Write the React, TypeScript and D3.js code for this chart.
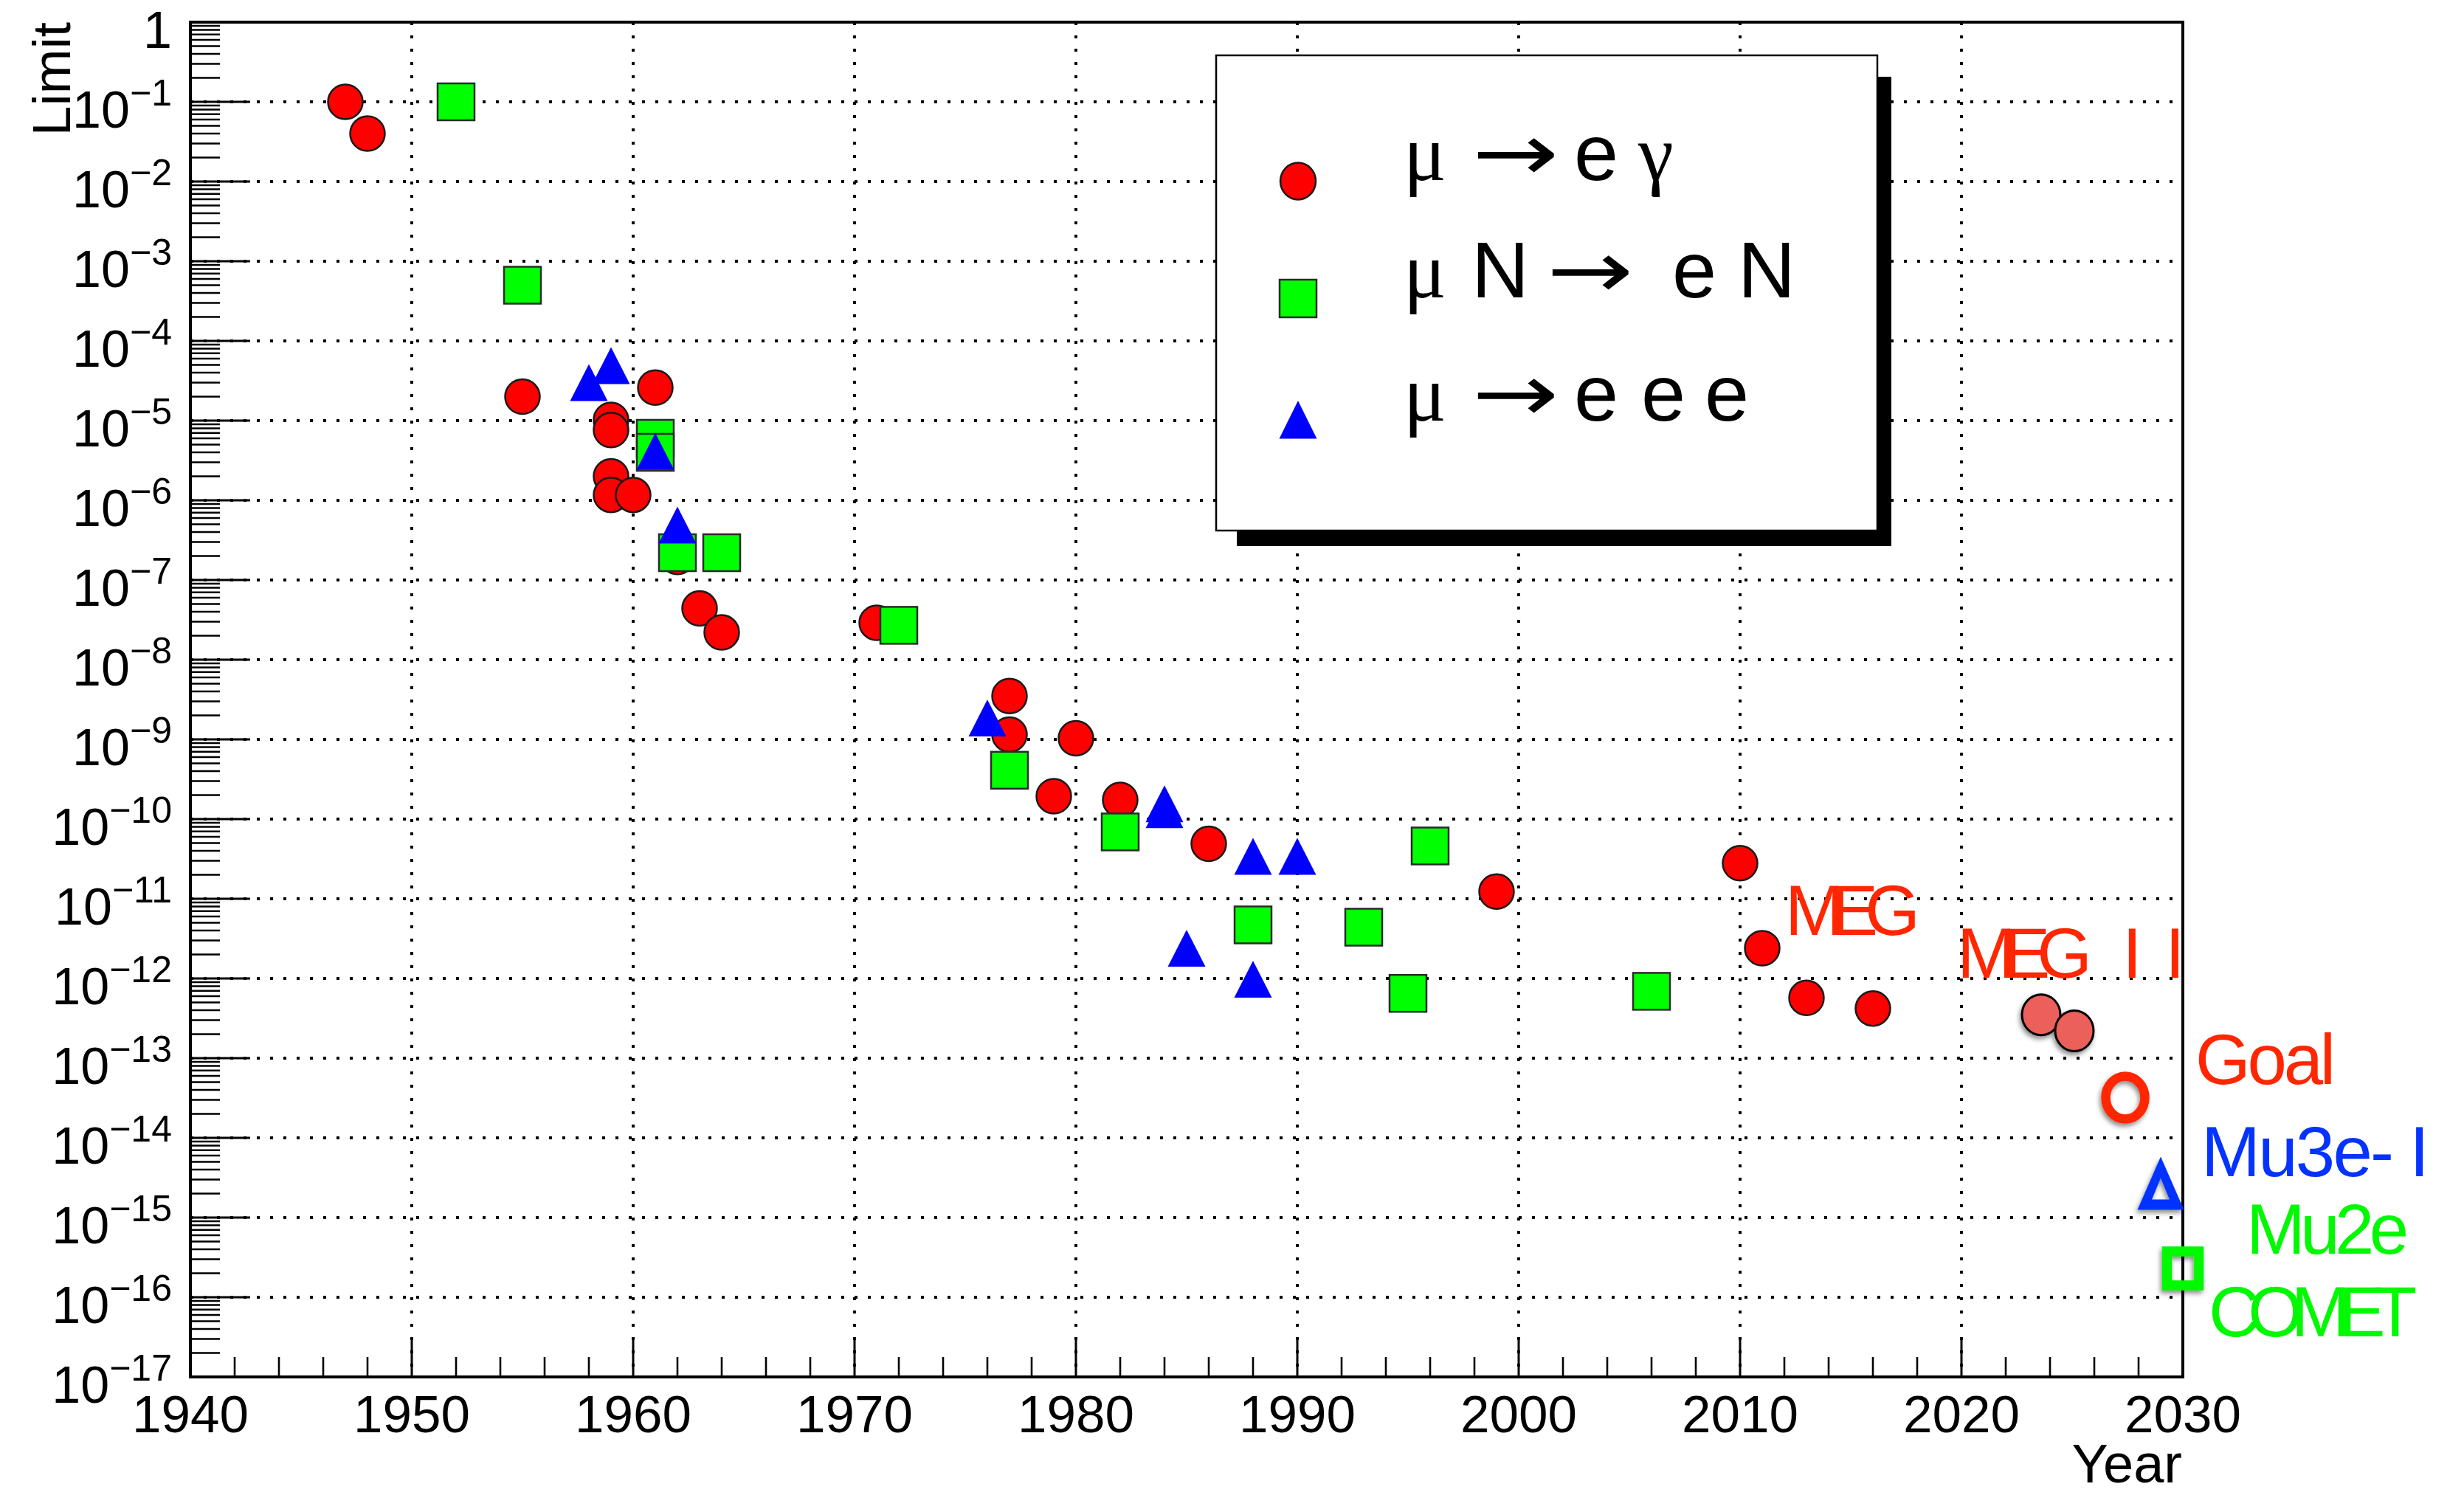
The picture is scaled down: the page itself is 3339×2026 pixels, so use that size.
import { scaleLinear, scaleLog, range } from "d3";

const W = 3339;
const H = 2026;
const X0 = 258;
const X1 = 2958;
const Y0 = 30;
const Y1 = 1866;

// mu -> e gamma
const egYears = [1947, 1948, 1955, 1959, 1959, 1959, 1959, 1960, 1961, 1962, 1963, 1964, 1971, 1977, 1977, 1979, 1980, 1982, 1986, 1999, 2010, 2011, 2013, 2016];
const egLimits = [1e-1, 4e-2, 2e-5, 1.02e-5, 7.6e-6, 2e-6, 1.17e-6, 1.17e-6, 2.6e-5, 1.95e-7, 4.4e-8, 2.2e-8, 2.9e-8, 3.5e-9, 1.15e-9, 1.94e-10, 1.03e-9, 1.74e-10, 4.9e-11, 1.23e-11, 2.8e-11, 2.4e-12, 5.7e-13, 4.2e-13];

// mu N -> e N
const convYears = [1952, 1955, 1961, 1961, 1962, 1964, 1972, 1977, 1982, 1988, 1993, 1995, 1996, 2006];
const convLimits = [1e-1, 5e-4, 6e-6, 4e-6, 2.2e-7, 2.2e-7, 2.7e-8, 4.1e-10, 6.9e-11, 4.7e-12, 4.4e-12, 6.5e-13, 4.6e-11, 6.9e-13];

// mu -> e e e
const eeeYears = [1958, 1959, 1961, 1962, 1976, 1984, 1984, 1985, 1988, 1988, 1990];
const eeeLimits = [3e-5, 4.9e-5, 4.1e-6, 4.9e-7, 1.86e-9, 1.56e-10, 1.31e-10, 2.4e-12, 3.4e-11, 9.8e-13, 3.4e-11];

// MEG II results and projected sensitivities
const megIIYears = [2023.6, 2025.1];
const megIILimits = [3.5e-13, 2.2e-13];
const goalYear = 2027.4;
const goalLimit = 3.2e-14;
const mu3eYear = 2029.0;
const mu3eLimit = 2.7e-15;
const mu2eYear = 2030.0;
const mu2eLimit = 2.3e-16;

const xTickYears = range(1940, 2031, 10);
const yExponents = range(0, -18, -1);

const RED = "#ff0000";
const GREEN = "#00ff00";
const BLUE = "#0000ff";
const KRED = "#ff2600";
const KBLUE = "#0433ff";
const KGREEN = "#00f900";
const SANS = "'Liberation Sans', Arial, Helvetica, sans-serif";
const SERIF = "'Liberation Serif', 'Times New Roman', serif";
const ARROW = "'DejaVu Sans', sans-serif";

const x = scaleLinear().domain([1940, 2030]).range([X0, X1]);
const y = scaleLog().domain([1, 1e-17]).range([Y0, Y1]);

const xMinor = range(1940, 2031, 2).filter((v) => v % 10 !== 0);
const yMinor = yExponents
  .slice(1)
  .flatMap((e) => range(2, 10).map((k) => k * Math.pow(10, e)));

const Circle = ({ cx, cy }: { cx: number; cy: number }) => (
  <circle cx={cx} cy={cy} r={23.5} fill={RED} stroke="#1a1a1a" strokeWidth={2.5} />
);
const Square = ({ cx, cy }: { cx: number; cy: number }) => (
  <rect x={cx - 25} y={cy - 25} width={50} height={50} fill={GREEN} stroke="#2a2a2a" strokeWidth={2.5} />
);
const Triangle = ({ cx, cy }: { cx: number; cy: number }) => (
  <path d={`M${cx - 25.5},${cy + 25}L${cx + 25.5},${cy + 25}L${cx},${cy - 25}Z`} fill={BLUE} />
);

const Arrow = ({ x0, base }: { x0: number; base: number }) => (
  <text transform={`translate(${x0},${base}) scale(1.3,1)`} fontFamily={ARROW} fontSize={108}>
    →
  </text>
);

const App = () => {
  const gx = (v: number) => x(v);
  const gy = (v: number) => y(v);

  // legend
  const lg = { x: 1648, y: 75, w: 896, h: 644 };
  const lmx = 1759;

  const tri = (cx: number, cy: number) => {
    const outer = `M${cx},${cy - 36}L${cx + 31.5},${cy + 36}L${cx - 31.5},${cy + 36}Z`;
    const inner = `M${cx},${cy - 7}L${cx + 12},${cy + 22}L${cx - 12},${cy + 22}Z`;
    return outer + inner;
  };

  return (
    <svg
      width={W}
      height={H}
      viewBox={`0 0 ${W} ${H}`}
      style={{ position: "absolute", left: 0, top: 0, background: "#fff" }}
    >
      <defs>
        <filter id="kshadow" x="-50%" y="-50%" width="200%" height="200%">
          <feDropShadow dx={-2} dy={4} stdDeviation={3} floodColor="#000" floodOpacity={0.45} />
        </filter>
      </defs>
      <rect width={W} height={H} fill="#fff" />

      {/* grid */}
      <g stroke="#000" strokeWidth={4} strokeDasharray="4 14" fill="none">
        {xTickYears.slice(1, -1).map((v) => (
          <line key={`gx${v}`} x1={gx(v)} x2={gx(v)} y1={Y0} y2={Y1} />
        ))}
        {yExponents.slice(1, -1).map((e) => (
          <line key={`gy${e}`} x1={X0} x2={X1} y1={gy(Math.pow(10, e))} y2={gy(Math.pow(10, e))} />
        ))}
      </g>

      {/* ticks */}
      <g stroke="#000" strokeWidth={3}>
        {yExponents.map((e) => (
          <line key={`ty${e}`} x1={X0} x2={X0 + 81} y1={gy(Math.pow(10, e))} y2={gy(Math.pow(10, e))} />
        ))}
        {yMinor.map((v, i) => (
          <line key={`tym${i}`} x1={X0} x2={X0 + 40} y1={gy(v)} y2={gy(v)} strokeWidth={2.6} />
        ))}
        {xTickYears.map((v) => (
          <line key={`tx${v}`} x1={gx(v)} x2={gx(v)} y1={Y1} y2={Y1 - 54} />
        ))}
        {xMinor.map((v) => (
          <line key={`txm${v}`} x1={gx(v)} x2={gx(v)} y1={Y1} y2={Y1 - 27} strokeWidth={2.6} />
        ))}
      </g>

      {/* frame */}
      <rect x={X0} y={Y0} width={X1 - X0} height={Y1 - Y0} fill="none" stroke="#000" strokeWidth={4} />

      {/* tick labels */}
      <g fontFamily={SANS} fill="#000">
        {yExponents.map((e) => (
          <text key={`ly${e}`} x={233} y={gy(Math.pow(10, e)) + 35} fontSize={70} textAnchor="end">
            {e === 0 ? "1" : "10"}
            {e !== 0 && (
              <tspan dy={-30} fontSize={50}>
                {`\u2212${-e}`}
              </tspan>
            )}
          </text>
        ))}
        {xTickYears.map((v) => (
          <text key={`lx${v}`} x={gx(v)} y={1941} fontSize={71} textAnchor="middle">
            {v}
          </text>
        ))}
        <text transform={`translate(95,${Y0}) rotate(-90)`} fontSize={73} textAnchor="end">
          Limit
        </text>
        <text x={2957} y={2009} fontSize={74} textAnchor="end">
          Year
        </text>
      </g>

      {/* data */}
      <g>
        {egYears.map((v, i) => (
          <Circle key={`eg${i}`} cx={gx(v)} cy={gy(egLimits[i])} />
        ))}
        {convYears.map((v, i) => (
          <Square key={`cv${i}`} cx={gx(v)} cy={gy(convLimits[i])} />
        ))}
        {eeeYears.map((v, i) => (
          <Triangle key={`e3${i}`} cx={gx(v)} cy={gy(eeeLimits[i])} />
        ))}
      </g>

      {/* MEG II and projections */}
      <g filter="url(#kshadow)">
        {megIIYears.map((v, i) => (
          <ellipse key={`m2${i}`} cx={gx(v)} cy={gy(megIILimits[i])} rx={26} ry={27.5} fill="#eb605a" stroke="#000" strokeWidth={3} />
        ))}
        <ellipse cx={gx(goalYear)} cy={gy(goalLimit)} rx={26.5} ry={29} fill="none" stroke={KRED} strokeWidth={12.5} />
        <path d={tri(gx(mu3eYear), gy(mu3eLimit))} fill={KBLUE} fillRule="evenodd" />
        <rect x={gx(mu2eYear) - 21.5} y={gy(mu2eLimit) - 23} width={43} height={46} fill="none" stroke={KGREEN} strokeWidth={13.5} />
      </g>

      {/* annotations */}
      <g fontFamily={SANS} fontSize={96}>
        <text x={gx(2012.03)} y={gy(Math.pow(10, -11.454))} fill={KRED} textLength={183} lengthAdjust="spacing">
          MEG
        </text>
        <text x={gx(2019.8)} y={gy(Math.pow(10, -11.99))} fill={KRED}>
          <tspan textLength={183} lengthAdjust="spacing">MEG</tspan>
          <tspan x={gx(2027.27)}>I</tspan>
          <tspan x={gx(2029.2)}>I</tspan>
        </text>
        <text x={gx(2030.57)} y={gy(Math.pow(10, -13.32))} fill={KRED} textLength={190} lengthAdjust="spacing">
          Goal
        </text>
        <text x={gx(2030.83)} y={gy(Math.pow(10, -14.48))} fill={KBLUE} textLength={309} lengthAdjust="spacing">
          Mu3e- I
        </text>
        <text x={gx(2032.87)} y={gy(Math.pow(10, -15.45))} fill={KGREEN} textLength={220} lengthAdjust="spacing">
          Mu2e
        </text>
        <text x={gx(2031.17)} y={gy(Math.pow(10, -16.49))} fill={KGREEN} textLength={282} lengthAdjust="spacing">
          COMET
        </text>
      </g>

      {/* legend */}
      <g>
        <rect x={lg.x + 28} y={lg.y + 29} width={lg.w - 9} height={lg.h - 8} fill="#000" />
        <rect x={lg.x} y={lg.y} width={lg.w} height={lg.h} fill="#fff" stroke="#000" strokeWidth={2.5} />
        <ellipse cx={lmx} cy={245.5} rx={24} ry={25} fill={RED} stroke="#1a1a1a" strokeWidth={2.5} />
        <rect x={lmx - 25} y={379} width={50} height={51} fill={GREEN} stroke="#2a2a2a" strokeWidth={2.5} />
        <path d={`M${lmx - 25.5},594.6L${lmx + 25.5},594.6L${lmx},543Z`} fill={BLUE} />
        <g fontSize={108} fill="#000">
          <text x={1902} y={244} fontFamily={SERIF}>μ</text>
          <Arrow x0={1995} base={244} />
          <text x={2133} y={244} fontFamily={SANS}>e</text>
          <text x={2220} y={244} fontFamily={SERIF}>γ</text>

          <text x={1902} y={403} fontFamily={SERIF}>μ</text>
          <text x={1994} y={403} fontFamily={SANS}>N</text>
          <Arrow x0={2096} base={403} />
          <text x={2266} y={403} fontFamily={SANS}>e</text>
          <text x={2355} y={403} fontFamily={SANS}>N</text>

          <text x={1902} y={570} fontFamily={SERIF}>μ</text>
          <Arrow x0={1995} base={570} />
          <text x={2133} y={570} fontFamily={SANS}>e</text>
          <text x={2224} y={570} fontFamily={SANS}>e</text>
          <text x={2310} y={570} fontFamily={SANS}>e</text>
        </g>
      </g>
    </svg>
  );
};

export default App;
